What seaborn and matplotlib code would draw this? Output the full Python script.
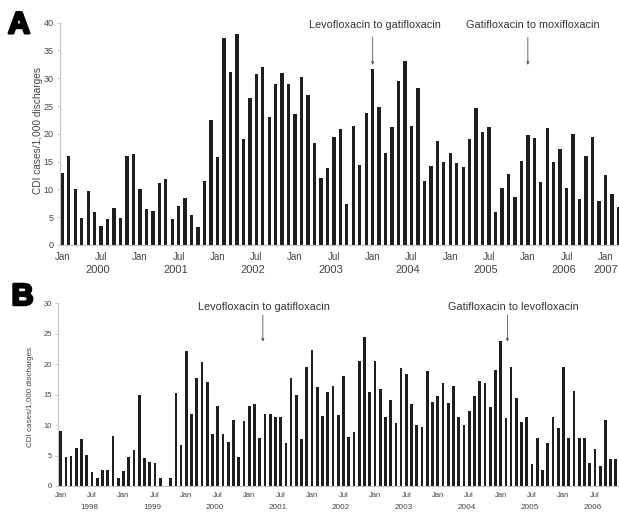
"""
CDI cases per 1,000 discharges -- two hospital panels (A, B)
monthly bars, fluoroquinolone formulary switches marked with arrows
"""
import numpy as np
import pandas as pd
import matplotlib
matplotlib.use("Agg")
import matplotlib.pyplot as plt
import matplotlib.patheffects as pe
import seaborn as sns

# -------------------------------------------------------------------
# data
# -------------------------------------------------------------------
# Panel A: Jan 2000 .. Mar 2007
rate_a = [
    12.9, 16.0, 10.0, 4.9, 9.8, 6.0, 3.5, 4.6, 6.6, 4.9, 16.1, 16.3,        # 2000
    10.1, 6.4, 6.2, 11.2, 11.8, 4.6, 7.1, 8.4, 5.4, 3.2, 11.6, 22.5,        # 2001
    15.9, 37.3, 31.2, 37.9, 19.0, 26.5, 30.7, 32.0, 23.1, 29.0, 30.9, 29.0,  # 2002
    23.6, 30.3, 27.0, 18.3, 12.0, 13.8, 19.4, 20.8, 7.3, 21.5, 14.4, 23.7,   # 2003
    31.6, 24.9, 16.5, 21.2, 29.5, 33.1, 21.5, 28.2, 11.6, 14.3, 18.8, 14.9,  # 2004
    16.5, 14.7, 14.1, 19.0, 24.6, 20.4, 21.2, 6.0, 10.2, 12.7, 8.6, 15.1,    # 2005
    19.8, 19.2, 11.4, 21.0, 14.9, 17.2, 10.3, 19.9, 8.2, 16.0, 19.4, 8.0,    # 2006
    12.6, 9.2, 6.9,                                                         # 2007
]
years_a = ["2000", "2001", "2002", "2003", "2004", "2005", "2006", "2007"]

# Panel B: Jan 1998 .. Nov 2006
rate_b = [
    9.0, 4.8, 5.0, 6.3, 7.7, 5.1, 2.3, 1.3, 2.6, 2.6, 8.2, 1.3,             # 1998
    2.4, 4.8, 5.9, 14.9, 4.6, 3.9, 3.7, 1.3, 0.0, 1.3, 15.3, 6.7,           # 1999
    22.1, 11.8, 17.8, 20.4, 17.0, 8.5, 13.1, 8.6, 7.3, 10.8, 4.7, 10.6,     # 2000
    13.2, 13.5, 7.9, 11.9, 11.9, 11.4, 11.4, 7.1, 17.8, 14.9, 7.7, 19.5,    # 2001
    22.3, 16.3, 11.5, 15.5, 16.4, 11.7, 18.0, 8.1, 8.9, 20.5, 24.5, 15.5,   # 2002
    20.5, 15.9, 11.4, 14.1, 10.4, 19.3, 18.4, 13.5, 10.0, 9.7, 18.9, 13.8,  # 2003
    14.7, 16.9, 13.6, 16.5, 11.3, 10.0, 12.3, 14.8, 17.3, 16.9, 13.0, 19.0, # 2004
    23.8, 11.2, 19.6, 14.4, 10.5, 11.3, 3.6, 7.9, 2.6, 7.0, 11.3, 9.6,      # 2005
    19.5, 7.8, 15.6, 7.8, 7.8, 3.7, 6.1, 3.3, 10.8, 4.5, 4.5,               # 2006
]
years_b = ["1998", "1999", "2000", "2001", "2002", "2003", "2004", "2005", "2006"]

month_ticks = ["Jan", "Jul"]
ylabel = "CDI cases/1,000 discharges"

# switch annotations: (label, month index of arrow, month index of text centre)
switches_a = [("Levofloxacin to gatifloxacin", 48, 48.3),
              ("Gatifloxacin to moxifloxacin", 72, 72.8)]
switches_b = [("Levofloxacin to gatifloxacin", 38.6, 38.9),
              ("Gatifloxacin to levofloxacin", 85.3, 86.4)]

# -------------------------------------------------------------------
# style
# -------------------------------------------------------------------
sns.set_style("white")
plt.rcParams["font.family"] = ["Liberation Sans", "DejaVu Sans"]

BAR = "#1e1e1e"
AXIS = "#c4c4c4"
TXT = "#444444"

W, H = 619, 512
fig = plt.figure(figsize=(W / 100, H / 100), dpi=100)


def px_axes(left, right, top, bottom):
    """axes from pixel box"""
    return fig.add_axes([left / W, 1 - bottom / H, (right - left) / W, (bottom - top) / H])


def draw_panel(ax, rates, years, ymax, ystep, xlim, switches, sizes, arrow_y, text_y):
    tick_fs, year_fs, ytick_fs, year_off, xpad = sizes
    df = pd.DataFrame({"month": np.arange(len(rates)), "rate": rates})
    sns.barplot(data=df, x="month", y="rate", color=BAR, saturation=1,
                width=0.52, linewidth=0, ax=ax)

    ax.set_xlim(*xlim)
    ax.set_ylim(0, ymax)
    ax.set_yticks(np.arange(0, ymax + 1, ystep))
    ax.set_xlabel("")
    ax.set_ylabel("")

    pos = np.arange(0, len(rates), 6)
    ax.set_xticks(pos)
    ax.set_xticklabels([month_ticks[(p // 6) % 2] for p in pos])

    for s in ["top", "right"]:
        ax.spines[s].set_visible(False)
    for s in ["left", "bottom"]:
        ax.spines[s].set_color(AXIS)
        ax.spines[s].set_linewidth(0.8)

    ax.tick_params(axis="y", length=2.5, width=0.6, color=AXIS, labelcolor=TXT,
                   labelsize=ytick_fs, pad=2, left=True)
    ax.tick_params(axis="x", length=0, labelcolor=TXT, labelsize=tick_fs, pad=xpad)

    # year labels centred under each year (short last year sits under its Jan)
    for i, yr in enumerate(years):
        n_in_year = min(12, len(rates) - 12 * i)
        xc = 12 * i + (5.5 if n_in_year >= 11 else 0)
        ax.text(xc, year_off, yr, transform=ax.get_xaxis_transform(),
                ha="center", va="center", fontsize=year_fs, color=TXT)

    for label, xa, xt in switches:
        ax.annotate("", xy=(xa, arrow_y[1]), xytext=(xa, arrow_y[0]),
                    arrowprops=dict(arrowstyle="-|>", color="#555555", lw=0.6,
                                    mutation_scale=4, shrinkA=0, shrinkB=0),
                    annotation_clip=False)
        ax.text(xt, text_y, label, ha="center", va="center",
                fontsize=7.8, color="#333333", clip_on=False)


# -------------------------------------------------------------------
# Panel A
# -------------------------------------------------------------------
ax_a = px_axes(60, 619, 22.7, 245)
draw_panel(ax_a, rate_a, years_a, 40, 5, (-0.36, 86.1), switches_a,
           (7, 8, 6.5, -0.1125, 5), arrow_y=(37.4, 32.4), text_y=39.6)
fig.text(38 / W, 1 - 131 / H, ylabel, rotation=90, ha="center", va="center",
         fontsize=7.3, color=TXT)

# -------------------------------------------------------------------
# Panel B
# -------------------------------------------------------------------
ax_b = px_axes(58.3, 619, 303.3, 486)
draw_panel(ax_b, rate_b, years_b, 30, 5, (-0.45, 106.6), switches_b,
           (5.5, 5.9, 5.4, -0.1166, 4.5), arrow_y=(28.1, 23.7), text_y=29.4)
fig.text(30 / W, 1 - 396.5 / H, ylabel, rotation=90, ha="center", va="center",
         fontsize=5.8, color=TXT)

# panel letters
for letter, x, y in [("A", 8, 33.3), ("B", 11.5, 305)]:
    fig.text(x / W, 1 - y / H, letter, fontsize=22, fontweight="bold", color="black",
             ha="left", va="baseline",
             path_effects=[pe.withStroke(linewidth=1.8, foreground="black")])

fig.savefig("out.png", dpi=100)
